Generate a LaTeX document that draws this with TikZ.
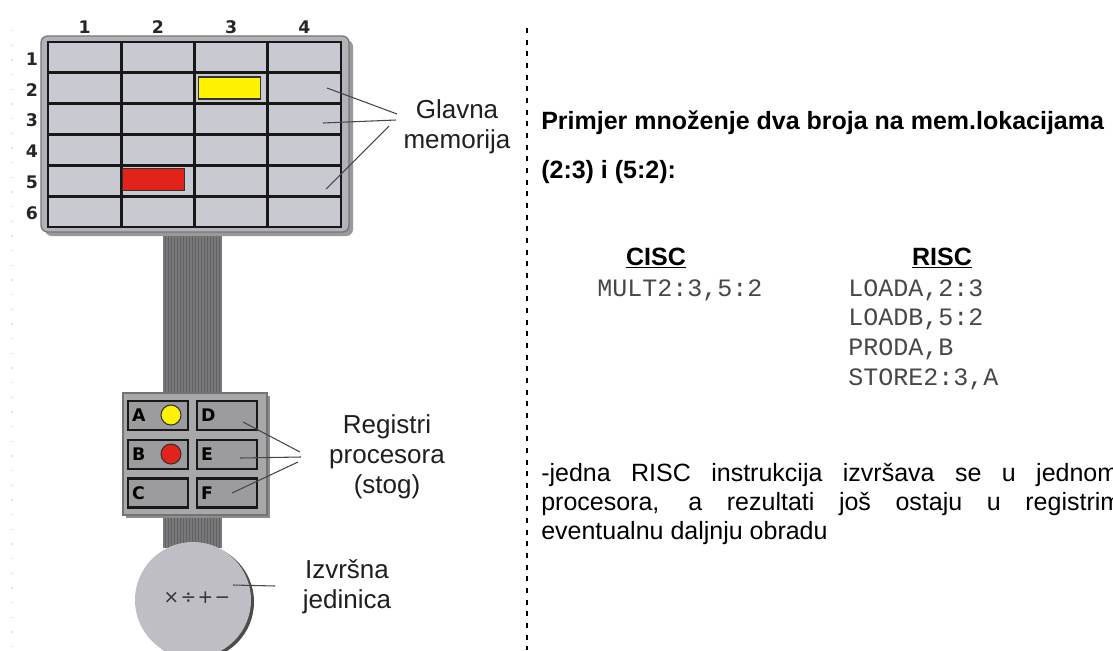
\documentclass[tikz,border=0pt]{standalone}
\usepackage{fontspec}
\setmainfont{Liberation Sans}
\newfontfamily\codefont{Liberation Mono}
\newfontfamily\labelfont{DejaVu Sans}
\usetikzlibrary{calc}

\definecolor{cellfill}{RGB}{201,201,210}
\definecolor{boardgray}{RGB}{178,178,184}
\definecolor{boardedge}{RGB}{118,118,122}
\definecolor{gridline}{RGB}{24,24,24}
\definecolor{busgray}{RGB}{120,120,122}
\definecolor{busstripe}{RGB}{98,98,100}
\definecolor{regblock}{RGB}{168,168,170}
\definecolor{regfill}{RGB}{156,156,158}
\definecolor{unitfill}{RGB}{190,190,196}
\definecolor{leadercol}{RGB}{70,70,76}
\definecolor{memyellow}{RGB}{255,242,0}
\definecolor{memred}{RGB}{226,35,26}

\tikzset{
  memcell/.style={draw=gridline, line width=2.2pt, fill=cellfill,
    minimum width=54.94pt, minimum height=23.12pt, inner sep=0pt},
  slot/.style={draw=black!80, line width=0.8pt,
    minimum width=47pt, minimum height=16.5pt, inner sep=0pt},
  idx/.style={font=\labelfont\bfseries\fontsize{13}{13}\selectfont,
    text=black!85, inner sep=0pt},
  regcell/.style={draw=gridline, line width=2.2pt, fill=regfill,
    minimum width=45pt, minimum height=21.75pt, inner sep=0pt},
  reglet/.style={font=\labelfont\bfseries\fontsize{13}{13}\selectfont,
    inner sep=0pt, anchor=west},
  dot/.style={circle, draw=black!80, line width=0.8pt,
    minimum size=15pt, inner sep=0pt},
  leader/.style={draw=leadercol, line width=0.8pt},
  caption/.style={font=\fontsize{19.5}{22.5}\selectfont, align=center,
    text=black!88, inner sep=0pt},
  body/.style={font=\fontsize{18.75}{22}\selectfont, anchor=base west,
    inner sep=0pt},
  bodybold/.style={font=\bfseries\fontsize{18.75}{22}\selectfont,
    anchor=base west, inner sep=0pt},
  code/.style={font=\codefont\fontsize{18.75}{22}\selectfont,
    anchor=base west, inner sep=0pt, text=black!72},
  divider/.style={draw=black, line width=1.3pt, dash pattern=on 3.75pt off 5pt},
}

\begin{document}
\begin{tikzpicture}[x=0.75pt,y=-0.75pt]
\useasboundingbox (0,0) rectangle (1113,650);
\fill[white] (0,0) rectangle (1113,650);
\clip (0,0) rectangle (1113,650);

% faint page edge marks
\draw[gray!22, line width=0.8pt, dash pattern=on 1pt off 10pt] (12,30) -- (12,650);

% data bus between memory, registers and the execution unit
\fill[busgray] (163,225) rectangle (222,548);
\foreach \x in {165,168,...,220}
  \draw[busstripe, line width=0.5pt] (\x,225) -- (\x,548);

% main memory board
\fill[black!40, rounded corners=5] (45,40) rectangle (353,236);
\draw[fill=boardgray, draw=boardedge, line width=1pt, rounded corners=5]
  (41,36) rectangle (349,232);
\foreach \r in {1,...,6}
  \foreach \c in {1,...,4} {
    \pgfmathsetmacro\cx{48+73.25*(\c-0.5)}
    \pgfmathsetmacro\cy{42+30.833*(\r-0.5)}
    \node[memcell] (m-\r-\c) at (\cx,\cy) {};
  }
\foreach \c in {1,...,4}
  \node[idx] (col\c) at ({48+73.25*(\c-0.5)},27) {\c};
\foreach \r in {1,...,6}
  \node[idx] (row\r) at (32,{42+30.833*(\r-0.5)+1.5}) {\r};

% stored operands
\node[slot, fill=memyellow] (v23) at (229.5,88) {};
\node[slot, fill=memred] (v52) at (153.5,179.5) {};

% memory label and its leaders
\node[caption] (mem) at (457,127) {Glavna\\memorija};
\coordinate (p24) at (327,88);
\coordinate (p34) at (323,123);
\coordinate (p54) at (326,189);
\coordinate (q1) at (397,114);
\coordinate (q2) at (396,120);
\coordinate (q3) at (389,126);
\draw[leader] (p24) -- (q1);
\draw[leader] (p34) -- (q2);
\draw[leader] (p54) -- (q3);

% processor registers
\fill[black!45] (126,396) rectangle (270,518);
\draw[fill=regblock, draw=black!55, line width=0.8pt] (123,393) rectangle (267,515);
\node[regcell] (rA) at (158,415.5) {};
\node[regcell] (rD) at (227,415.5) {};
\node[regcell] (rB) at (158,454.5) {};
\node[regcell] (rE) at (227,454.5) {};
\node[regcell] (rC) at (158,493) {};
\node[regcell] (rF) at (227,493) {};
\foreach \n in {A,B,C,D,E,F}
  \node[reglet] (l\n) at ([xshift=4pt]r\n.west) {\n};
\node[dot, fill=memyellow] (dA) at (171,415) {};
\node[dot, fill=memred] (dB) at (171,454) {};

\node[caption] (regs) at (387,457) {Registri\\procesora\\(stog)};
\coordinate (pD) at (243,422);
\coordinate (pE) at (240,458);
\coordinate (pF) at (232,493);
\coordinate (s1) at (300,452);
\coordinate (s2) at (301,457);
\coordinate (s3) at (298,462);
\draw[leader] (pD) -- (s1);
\draw[leader] (pE) -- (s2);
\draw[leader] (pF) -- (s3);

% execution unit
\fill[black!70] (196,602) circle[radius=58];
\node[circle, fill=unitfill, minimum size=87pt, inner sep=0pt] (alu) at (193,600) {};
\node[font=\labelfont\fontsize{14}{14}\selectfont, text=black!80, inner sep=0pt]
  (ops) at (197,598) {×\hspace{1pt}÷\hspace{1pt}+\hspace{1pt}−};
\node[caption] (exec) at (347,587) {Izvršna\\jedinica};
\coordinate (pu) at (233,585);
\coordinate (su) at (275,586);
\draw[leader] (pu) -- (su);

% divider
\coordinate (divtop) at (527,28);
\coordinate (divbot) at (527,650);
\draw[divider] (divtop) -- (divbot);

% example text
\node[bodybold] (t1) at (541,129) {Primjer množenje dva broja na mem.lokacijama};
\node[bodybold] (t2) at (541,178) {(2:3) i (5:2):};
\node[bodybold, anchor=base] (cisc) at (656,265) {\underline{CISC}};
\node[bodybold, anchor=base] (risc) at (942,265) {\underline{RISC}};
\node[code] (c1) at (597,296) {MULT2:3,5:2};
\node[code] (r1) at (848,296) {LOADA,2:3};
\node[code] (r2) at (848,325) {LOADB,5:2};
\node[code] (r3) at (848,355) {PRODA,B};
\node[code] (r4) at (848,385) {STORE2:3,A};

\node[body] (p1) at (541,481)
  {\makebox[432.75pt][s]{-jedna RISC instrukcija izvršava se u jednom}};
\node[body] (p2) at (541,510)
  {\makebox[435pt][s]{procesora, a rezultati još ostaju u registrim}};
\node[body] (p3) at (541,539) {eventualnu daljnju obradu};
\end{tikzpicture}
\end{document}
